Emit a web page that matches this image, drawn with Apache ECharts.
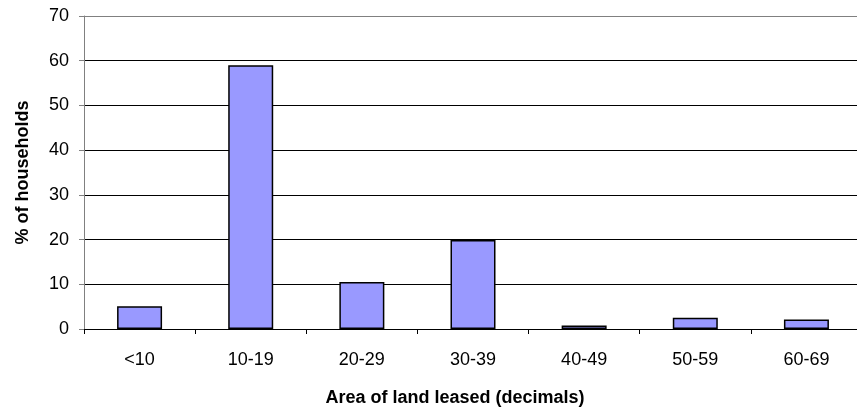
<!DOCTYPE html>
<html>
<head>
<meta charset="utf-8">
<script src="https://cdn.jsdelivr.net/npm/echarts@6/dist/echarts.min.js"></script>
<style>
  html, body { margin: 0; padding: 0; background: #fff; }
  #chart { width: 857px; height: 410px; }
</style>
</head>
<body>
<div id="chart"></div>
<script>
// Leased land size classes and share of households in each
const categories = ['<10', '10-19', '20-29', '30-39', '40-49', '50-59', '60-69'];
const householdPct = [5.1, 59, 10.5, 19.9, 0.8, 2.5, 2.1];
const yTicks = { min: 0, max: 70, step: 10 };

const chart = echarts.init(document.getElementById('chart'), null, { renderer: 'canvas' });
const font = '"Liberation Sans", Arial, sans-serif';

chart.setOption({
  animation: false,
  backgroundColor: '#ffffff',
  grid: { left: 84, top: 16, width: 778, height: 313, containLabel: false, outerBoundsMode: 'none' },
  xAxis: {
    type: 'category',
    data: categories,
    boundaryGap: true,
    axisLine: { show: true, lineStyle: { color: '#000', width: 1 } },
    axisTick: { show: true, length: 5, alignWithLabel: false, lineStyle: { color: '#000' } },
    axisLabel: { color: '#000', fontFamily: font, fontSize: 18, margin: 22 },
    name: 'Area of land leased (decimals)',
    nameLocation: 'middle',
    nameGap: 60,
    nameTextStyle: { color: '#000', fontFamily: font, fontSize: 18, fontWeight: 'bold', padding: [0, 0, 0, -36] }
  },
  yAxis: {
    type: 'value',
    min: yTicks.min,
    max: yTicks.max,
    interval: yTicks.step,
    axisLine: { show: true, lineStyle: { color: '#808080', width: 1 } },
    axisTick: { show: true, length: 5, lineStyle: { color: '#808080' } },
    axisLabel: { color: '#000', fontFamily: font, fontSize: 18, margin: 15 },
    splitLine: {
      show: true,
      lineStyle: { color: ['#000', '#000', '#000', '#000', '#000', '#000', '#000', '#808080'], width: 1 }
    },
    name: '% of households',
    nameLocation: 'middle',
    nameGap: 52,
    nameRotate: 90,
    nameTextStyle: { color: '#000', fontFamily: font, fontSize: 18, fontWeight: 'bold' }
  },
  series: [{
    type: 'bar',
    data: householdPct,
    barWidth: 45,
    itemStyle: { color: '#9999ff', borderColor: '#000', borderWidth: 1.5 }
  }]
});
</script>
</body>
</html>
